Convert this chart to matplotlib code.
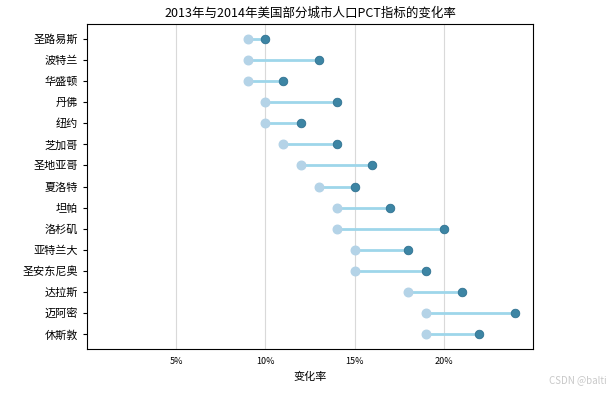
import matplotlib
matplotlib.use("Agg")
import matplotlib.pyplot as plt
from matplotlib.ticker import FuncFormatter

plt.rcParams['font.family'] = ['Noto Sans CJK SC', 'DejaVu Sans']
plt.rcParams['axes.unicode_minus'] = False

cities = ['圣路易斯', '波特兰', '华盛顿', '丹佛', '纽约', '芝加哥', '圣地亚哥', '夏洛特',
          '坦帕', '洛杉矶', '亚特兰大', '圣安东尼奥', '达拉斯', '迈阿密', '休斯敦']
pct2013 = [0.09, 0.09, 0.09, 0.10, 0.10, 0.11, 0.12, 0.13, 0.14, 0.14, 0.15, 0.15, 0.18, 0.19, 0.19]
pct2014 = [0.10, 0.13, 0.11, 0.14, 0.12, 0.14, 0.16, 0.15, 0.17, 0.20, 0.18, 0.19, 0.21, 0.24, 0.22]
xticks = [0.05, 0.10, 0.15, 0.20]

fig = plt.figure(figsize=(6.15, 3.93), dpi=100)
ax = fig.add_axes([87/615, 1 - 349/393, (533-87)/615, (349-24)/393])

y = list(range(len(cities)))
ax.hlines(y, pct2013, pct2014, color='#9ed6ea', linewidth=2, zorder=2)
ax.scatter(pct2013, y, s=38, color='#b4d3e7', zorder=3, label='2013')
ax.scatter(pct2014, y, s=38, color='#3d85a4', edgecolor='#2f7191', linewidth=0.6, zorder=3, label='2014')

ax.set_yticks(y)
ax.set_yticklabels(cities, fontsize=8)
ax.invert_yaxis()
ax.set_xlim(0, 0.25)
ax.set_xticks(xticks)
ax.xaxis.set_major_formatter(FuncFormatter(lambda v, p: f'{v*100:.0f}%'))
ax.tick_params(axis='x', labelsize=6.5, length=0, pad=6)
ax.tick_params(axis='y', length=3)
ax.grid(axis='x', color='#d9d9d9', linewidth=0.8, zorder=0)
ax.set_axisbelow(True)
ax.set_xlabel('变化率', fontsize=8, labelpad=4)
ax.set_title('2013年与2014年美国部分城市人口PCT指标的变化率', fontsize=9, pad=5)

fig.text(0.987, 0.02, 'CSDN @balti', ha='right', va='bottom', fontsize=7, color='#c8c8c8')

fig.savefig('out.png', dpi=100)
